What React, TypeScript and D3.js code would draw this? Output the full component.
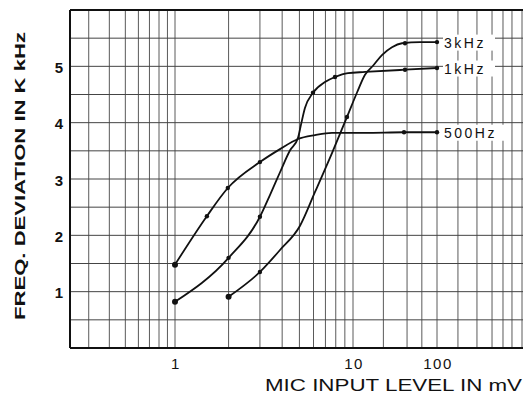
import React from 'react';
import * as d3 from 'd3';

// ---- data ----
const yTickValues = [1, 2, 3, 4, 5];
const xTickValues = [1, 10, 100];
const xTickLabels = ['1', '10', '100'];

const gridXValues = [0.3, 0.4, 0.5, 0.6, 0.7, 0.8, 0.9, 1, 2, 3, 4, 5, 6, 7, 8, 9, 10, 23, 44, 66, 100, 162, 251, 355, 457, 562, 708];
const gridYValues = [0.5, 1, 1.5, 2, 2.5, 3, 3.5, 4, 4.5, 5, 5.5];

const seriesNames = ['3kHz', '1kHz', '500Hz'];

const s500: [number, number][] = [
  [1, 1.48], [1.51, 2.34], [1.98, 2.84], [3.0, 3.3], [3.89, 3.53], [4.91, 3.71],
  [6.12, 3.78], [7.62, 3.82], [13.9, 3.82], [40.5, 3.83], [100, 3.83],
];
const s1k: [number, number][] = [
  [1, 0.82], [2, 1.6], [3, 2.33], [3.42, 2.72], [3.89, 3.12], [4.43, 3.51], [4.91, 3.73],
  [5.1, 3.96], [5.37, 4.26], [5.96, 4.53], [6.96, 4.72], [7.92, 4.81], [9.37, 4.88],
  [13.9, 4.9], [41.6, 4.94], [100, 4.97],
];
const s3k: [number, number][] = [
  [2, 0.91], [3, 1.35], [3.89, 1.74], [5.04, 2.17], [6.12, 2.77], [7.62, 3.46], [9.25, 4.1],
  [11.2, 4.54], [13.9, 4.85], [17.3, 5.01], [22.1, 5.2], [29.1, 5.34], [38.3, 5.41],
  [62.8, 5.43], [100, 5.43],
];

const m500: [number, number][] = [[1, 1.48], [1.51, 2.34], [1.98, 2.84], [3.0, 3.3], [40.5, 3.83], [100, 3.83]];
const m1k: [number, number][] = [[1, 0.82], [2, 1.6], [3, 2.33], [5.96, 4.53], [7.92, 4.81], [41.6, 4.94], [100, 4.97]];
const m3k: [number, number][] = [[2, 0.91], [3, 1.35], [9.25, 4.1], [41.6, 5.41], [100, 5.43]];

const W = 523;
const H = 395;

export default function App() {
  // piecewise log scale (the paper's decades are unequal)
  const lx = d3.scaleLinear().domain([Math.log10(0.231), 0, 1, 2, 3]).range([70, 175, 353, 437, 537]);
  const x = (v: number) => lx(Math.log10(v));
  const y = d3.scaleLinear().domain([0, 6]).range([348, 10]);
  const left = 70;
  const right = 524;

  const line = d3
    .line<[number, number]>()
    .x((d) => x(d[0]))
    .y((d) => y(d[1]))
    .curve(d3.curveMonotoneX);

  const series = [s3k, s1k, s500];
  const markers = [m3k, m1k, m500];
  const font = "'Liberation Sans', Arial, sans-serif";

  return (
    <div style={{ position: 'absolute', left: 0, top: 0 }}>
      <svg width={W} height={H} style={{ display: 'block', background: '#fff' }}>
        <rect x={0} y={0} width={W} height={H} fill="#fff" />
        {/* grid */}
        {gridXValues.map((v, i) => (
          <line key={'gx' + i} x1={x(v)} x2={x(v)} y1={y(6)} y2={y(0)} stroke="#5a5a5a" strokeWidth={1} />
        ))}
        {gridYValues.map((v, i) => (
          <line key={'gy' + i} x1={left} x2={right} y1={y(v)} y2={y(v)} stroke="#444" strokeWidth={1} />
        ))}
        {/* frame */}
        <line x1={left} x2={right} y1={y(6)} y2={y(6)} stroke="#111" strokeWidth={2} />
        <line x1={left} x2={right} y1={y(0)} y2={y(0)} stroke="#111" strokeWidth={2} />
        <line x1={left} x2={left} y1={y(6)} y2={y(0)} stroke="#111" strokeWidth={2} />

        {/* curves */}
        {series.map((s, i) => (
          <path key={'s' + i} d={line(s) || ''} fill="none" stroke="#111" strokeWidth={1.8} />
        ))}
        {markers.map((m, i) =>
          m.map((d, j) => (
            <circle key={'m' + i + '-' + j} cx={x(d[0])} cy={y(d[1])} r={j === 0 ? 3 : 2.2} fill="#111" />
          ))
        )}

        {/* series labels */}
        {series.map((s, i) => {
          const last = s[s.length - 1];
          const lx0 = x(last[0]) + 5;
          const ly0 = y(last[1]) + 0.5;
          const wText = seriesNames[i].length * 12 + 4;
          return (
            <g key={'lab' + i}>
              <rect x={lx0 + 1} y={ly0 - 8} width={wText} height={16} fill="#fff" />
              <text
                x={lx0 + 2}
                y={ly0}
                dominantBaseline="central"
                fontFamily={font}
                fontSize={14}
                letterSpacing={2.5}
                fill="#111"
              >
                {seriesNames[i]}
              </text>
            </g>
          );
        })}

        {/* y tick labels */}
        {yTickValues.map((v) => (
          <text
            key={'yt' + v}
            x={59}
            y={y(v) + 1}
            textAnchor="middle"
            dominantBaseline="central"
            fontFamily={font}
            fontWeight="bold"
            fontSize={15}
            fill="#111"
          >
            {v}
          </text>
        ))}
        {/* x tick labels */}
        {xTickValues.map((v, i) => (
          <text
            key={'xt' + v}
            x={x(v) + 1}
            y={363}
            textAnchor="middle"
            dominantBaseline="central"
            fontFamily={font}
            fontSize={15}
            letterSpacing={1.5}
            fill="#111"
          >
            {xTickLabels[i]}
          </text>
        ))}

        {/* axis titles */}
        <text
          x={265}
          y={391}
          textLength={257}
          lengthAdjust="spacingAndGlyphs"
          fontFamily={font}
          fontSize={16}
          fill="#111"
        >
          MIC INPUT LEVEL IN mV
        </text>
        <text
          transform={`translate(25, 320) rotate(-90)`}
          textLength={288}
          lengthAdjust="spacingAndGlyphs"
          fontFamily={font}
          fontWeight="bold"
          fontSize={15}
          fill="#111"
        >
          FREQ. DEVIATION IN K kHz
        </text>
      </svg>
    </div>
  );
}
